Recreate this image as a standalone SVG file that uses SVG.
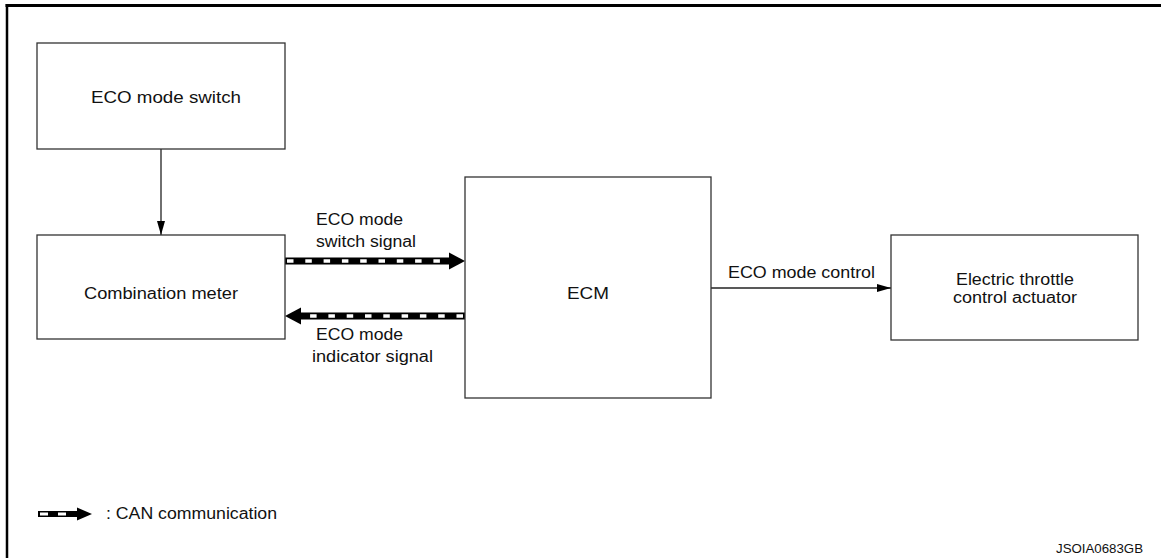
<svg xmlns="http://www.w3.org/2000/svg" width="1161" height="558" viewBox="0 0 1161 558">
<style>
.box{fill:#fff;stroke:#333;stroke-width:1.3}
.t{font-family:"Liberation Sans",Arial,sans-serif;font-size:16px;fill:#111}
.thin{stroke:#222;stroke-width:1.3;fill:none}
.canb{stroke:#000;stroke-width:7;fill:none}
.canw{stroke:#fff;stroke-width:3.5;fill:none;stroke-dasharray:6.5 11.8}
</style>
<defs>
<marker id="ah" viewBox="0 0 14 8" refX="14" refY="4" markerWidth="14" markerHeight="8" markerUnits="userSpaceOnUse" orient="auto">
<path d="M0,0 L14,4 L0,8 Z" fill="#000"/>
</marker>
</defs>
<rect width="1161" height="558" fill="#fff"/>
<g id="frame">
<line x1="5.5" y1="5.5" x2="1161" y2="5.5" stroke="#000" stroke-width="3"/>
<line x1="7" y1="4" x2="7" y2="558" stroke="#000" stroke-width="2.5"/>
</g>
<g id="connectors">
<line class="thin" x1="161" y1="149" x2="161" y2="235" marker-end="url(#ah)"/>
<line class="thin" x1="711" y1="288" x2="891" y2="288" marker-end="url(#ah)"/>
<line class="canb" x1="285" y1="261" x2="452" y2="261"/>
<line class="canw" x1="287" y1="261" x2="450" y2="261"/>
<polygon points="449,252.5 465,261 449,269.5" fill="#000"/>
<line class="canb" x1="299" y1="316" x2="465" y2="316"/>
<line class="canw" x1="463" y1="316" x2="301" y2="316"/>
<polygon points="301,307.5 285,316 301,324.5" fill="#000"/>
</g>
<g id="eco-switch">
<rect class="box" x="37" y="43" width="248" height="106"/>
<text class="t" x="91" y="103" textLength="150" lengthAdjust="spacingAndGlyphs">ECO mode switch</text>
</g>
<g id="combination-meter">
<rect class="box" x="37" y="235" width="248" height="104"/>
<text class="t" x="84" y="299" textLength="154" lengthAdjust="spacingAndGlyphs">Combination meter</text>
</g>
<g id="ecm">
<rect class="box" x="465" y="177" width="246" height="221"/>
<text class="t" x="567" y="299" textLength="42" lengthAdjust="spacingAndGlyphs">ECM</text>
</g>
<g id="throttle">
<rect class="box" x="891" y="235" width="247" height="105"/>
<text class="t" x="956" y="285" textLength="118" lengthAdjust="spacingAndGlyphs">Electric throttle</text>
<text class="t" x="953" y="303" textLength="124" lengthAdjust="spacingAndGlyphs">control actuator</text>
</g>
<g id="labels">
<text class="t" x="316" y="225" textLength="87" lengthAdjust="spacingAndGlyphs">ECO mode</text>
<text class="t" x="316" y="247" textLength="100" lengthAdjust="spacingAndGlyphs">switch signal</text>
<text class="t" x="316" y="340" textLength="87" lengthAdjust="spacingAndGlyphs">ECO mode</text>
<text class="t" x="312" y="362" textLength="121" lengthAdjust="spacingAndGlyphs">indicator signal</text>
<text class="t" x="728" y="278" textLength="147" lengthAdjust="spacingAndGlyphs">ECO mode control</text>
</g>
<g id="legend">
<rect x="38" y="511" width="40" height="6" fill="#000"/>
<rect x="40" y="512.5" width="8" height="3" fill="#fff"/>
<rect x="58" y="512.5" width="8" height="3" fill="#fff"/>
<polygon points="77,507.5 92,514 77,520.5" fill="#000"/>
<text class="t" x="106" y="519" textLength="171" lengthAdjust="spacingAndGlyphs">: CAN communication</text>
</g>
<text class="t" x="1056" y="553" style="font-size:12px" textLength="87" lengthAdjust="spacingAndGlyphs">JSOIA0683GB</text>
</svg>
